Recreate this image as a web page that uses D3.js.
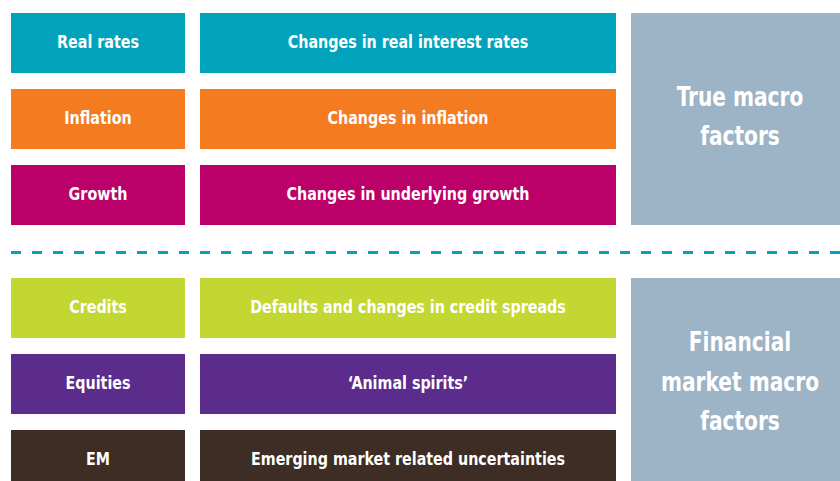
<!DOCTYPE html>
<html>
<head>
<meta charset="utf-8">
<script src="https://cdn.jsdelivr.net/npm/d3@7"></script>
<style>
  body { margin: 0; background: #fff; }
  svg text { font-family: "DejaVu Sans Condensed", "DejaVu Sans", sans-serif; font-weight: bold; fill: #fff; }
</style>
</head>
<body>
<div id="chart"></div>
<script>
// factor data
const trueFactors = ["Real rates", "Inflation", "Growth"];
const trueDescriptions = ["Changes in real interest rates", "Changes in inflation", "Changes in underlying growth"];
const trueColors = ["#00a3bb", "#f47b20", "#bc006a"];

const marketFactors = ["Credits", "Equities", "EM"];
const marketDescriptions = ["Defaults and changes in credit spreads", "\u2018Animal spirits\u2019", "Emerging market related uncertainties"];
const marketColors = ["#c2d732", "#5b2c8c", "#3e2d24"];

const groupLabels = [["True macro", "factors"], ["Financial", "market macro", "factors"]];

const width = 840, height = 481;
const groupColor = "#9db3c6";
const dashColor = "#00a3bb";

const svg = d3.select("#chart").append("svg")
    .attr("width", width)
    .attr("height", height);

// columns: factor name, description, group box
const xCol = d3.scaleOrdinal()
    .domain(["name", "desc", "group"])
    .range([11, 200, 631]);
const colWidth = {name: 174, desc: 416, group: 220};

const groups = [
    {names: trueFactors, descs: trueDescriptions, colors: trueColors, label: groupLabels[0], top: 13},
    {names: marketFactors, descs: marketDescriptions, colors: marketColors, label: groupLabels[1], top: 278}
];

const rowStep = 76, rowHeight = 60;

groups.forEach(function(grp) {
    const extent = [grp.top, grp.top + (grp.names.length - 1) * rowStep + rowHeight];
    const y = d3.scaleBand()
        .domain(grp.names)
        .range(extent)
        .paddingInner((rowStep - rowHeight) / rowStep)
        .paddingOuter(0);

    const g = svg.append("g");

    const rows = g.selectAll("g.row")
        .data(grp.names.map((n, i) => ({name: n, desc: grp.descs[i], color: grp.colors[i]})))
        .join("g")
        .attr("class", "row")
        .attr("transform", d => "translate(0," + y(d.name) + ")");

    ["name", "desc"].forEach(function(col) {
        rows.append("rect")
            .attr("x", xCol(col))
            .attr("width", colWidth[col])
            .attr("height", y.bandwidth())
            .attr("fill", d => d.color);

        // condensed look: squeeze text horizontally
        rows.append("text")
            .attr("transform", "translate(" + (xCol(col) + colWidth[col] / 2) + "," + (y.bandwidth() / 2 + 4.5) + ") scale(0.935,1)")
            .attr("text-anchor", "middle")
            .style("font-size", "17px")
            .text(d => d[col]);
    });

    // group box
    g.append("rect")
        .attr("x", xCol("group"))
        .attr("y", extent[0])
        .attr("width", colWidth.group)
        .attr("height", extent[1] - extent[0])
        .attr("fill", groupColor);

    const lineGap = 40;
    const midY = (extent[0] + extent[1]) / 2;
    g.append("text")
        .attr("transform", "translate(740," + midY + ") scale(0.83,1)")
        .attr("text-anchor", "middle")
        .style("font-size", "27px")
        .selectAll("tspan")
        .data(grp.label)
        .join("tspan")
        .attr("x", 0)
        .attr("y", (d, i) => (i - (grp.label.length - 1) / 2) * lineGap + 6.5)
        .text(d => d);
});

// dashed separator
svg.append("line")
    .attr("x1", 11)
    .attr("x2", width)
    .attr("y1", 252.5)
    .attr("y2", 252.5)
    .attr("stroke", dashColor)
    .attr("stroke-width", 3)
    .attr("stroke-dasharray", "10,11");
</script>
</body>
</html>
